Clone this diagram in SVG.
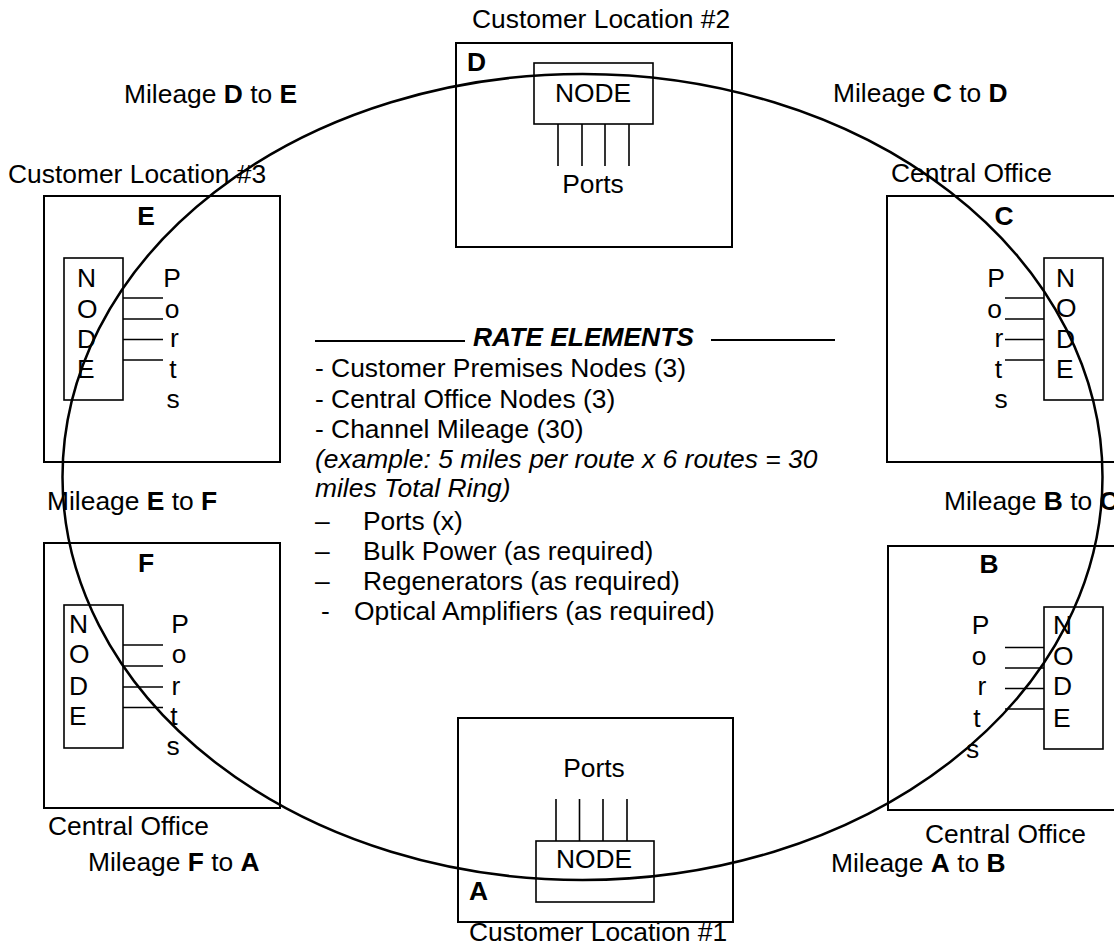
<svg xmlns="http://www.w3.org/2000/svg" width="1114" height="951" viewBox="0 0 1114 951">
<style>
text{font-family:"Liberation Sans",Arial,sans-serif;font-size:26.4px;fill:#000}
.b{font-weight:bold}
.bi{font-weight:bold;font-style:italic}
.i{font-style:italic}
.m{text-anchor:middle}
.box{fill:none;stroke:#000;stroke-width:2}
.inner{fill:none;stroke:#000;stroke-width:1.6}
.port{stroke:#000;stroke-width:1.6}
.ring{fill:none;stroke:#000;stroke-width:2.5}
.rule{stroke:#000;stroke-width:1.8}
</style>
<rect width="1114" height="951" fill="#fff"/>

<g id="node-D">
<text x="472" y="28">Customer Location #2</text>
<rect class="box" x="456" y="43" width="276" height="204"/>
<text class="b" x="467" y="71">D</text>
<rect class="inner" x="534" y="63" width="119" height="61"/>
<text class="m" x="593" y="102">NODE</text>
<line class="port" x1="558" y1="124" x2="558" y2="166"/>
<line class="port" x1="582" y1="124" x2="582" y2="166"/>
<line class="port" x1="605" y1="124" x2="605" y2="166"/>
<line class="port" x1="629" y1="124" x2="629" y2="166"/>
<text class="m" x="593" y="193">Ports</text>
</g>

<g id="node-E">
<text x="8" y="183">Customer Location #3</text>
<rect class="box" x="44" y="196" width="236" height="266"/>
<text class="b m" x="146" y="225">E</text>
<rect class="inner" x="64" y="258" width="59" height="142"/>
<text x="77" y="287">N</text>
<text x="77" y="318">O</text>
<text x="77" y="348">D</text>
<text x="77" y="378">E</text>
<line class="port" x1="123" y1="298" x2="163" y2="298"/>
<line class="port" x1="123" y1="319" x2="163" y2="319"/>
<line class="port" x1="123" y1="339.5" x2="163" y2="339.5"/>
<line class="port" x1="123" y1="360" x2="163" y2="360"/>
<text class="m" x="172" y="287">P</text>
<text class="m" x="172" y="318">o</text>
<text class="m" x="174.5" y="347">r</text>
<text class="m" x="173" y="378">t</text>
<text class="m" x="173" y="408">s</text>
</g>

<g id="node-C">
<text x="891" y="182">Central Office</text>
<rect class="box" x="887" y="196" width="240" height="266"/>
<text class="b m" x="1004" y="225">C</text>
<rect class="inner" x="1044" y="258" width="59" height="142"/>
<text x="1056" y="287">N</text>
<text x="1056" y="317">O</text>
<text x="1056" y="348">D</text>
<text x="1056" y="378">E</text>
<line class="port" x1="1005" y1="298" x2="1044" y2="298"/>
<line class="port" x1="1005" y1="319" x2="1044" y2="319"/>
<line class="port" x1="1005" y1="339.5" x2="1044" y2="339.5"/>
<line class="port" x1="1005" y1="360" x2="1044" y2="360"/>
<text class="m" x="996" y="287">P</text>
<text class="m" x="994.5" y="318">o</text>
<text class="m" x="999" y="347">r</text>
<text class="m" x="998.5" y="378">t</text>
<text class="m" x="1001" y="408">s</text>
</g>

<g id="node-F">
<rect class="box" x="44" y="543" width="236" height="265"/>
<text class="b m" x="146" y="572">F</text>
<rect class="inner" x="64" y="605" width="59" height="143"/>
<text x="69" y="633">N</text>
<text x="69" y="663">O</text>
<text x="69" y="695">D</text>
<text x="69" y="725">E</text>
<line class="port" x1="123" y1="645" x2="163" y2="645"/>
<line class="port" x1="123" y1="666" x2="163" y2="666"/>
<line class="port" x1="123" y1="687" x2="163" y2="687"/>
<line class="port" x1="123" y1="707.5" x2="163" y2="707.5"/>
<text class="m" x="180" y="633">P</text>
<text class="m" x="179" y="663">o</text>
<text class="m" x="176" y="695">r</text>
<text class="m" x="174" y="725">t</text>
<text class="m" x="173" y="755">s</text>
<text x="48" y="835">Central Office</text>
</g>

<g id="node-B">
<rect class="box" x="888" y="546" width="240" height="264"/>
<text class="b m" x="989" y="573">B</text>
<rect class="inner" x="1044" y="607" width="59" height="142"/>
<text x="1053" y="634">N</text>
<text x="1053" y="665">O</text>
<text x="1053" y="695">D</text>
<text x="1053" y="727">E</text>
<line class="port" x1="1005" y1="647.5" x2="1044" y2="647.5"/>
<line class="port" x1="1005" y1="668" x2="1044" y2="668"/>
<line class="port" x1="1005" y1="688.5" x2="1044" y2="688.5"/>
<line class="port" x1="1005" y1="709" x2="1044" y2="709"/>
<text class="m" x="980.5" y="634">P</text>
<text class="m" x="979" y="665">o</text>
<text class="m" x="982" y="695">r</text>
<text class="m" x="977" y="727">t</text>
<text class="m" x="972.5" y="758">s</text>
<text x="925" y="843">Central Office</text>
</g>

<g id="node-A">
<rect class="box" x="458" y="718" width="275" height="204"/>
<text class="m" x="594" y="777">Ports</text>
<line class="port" x1="556" y1="799" x2="556" y2="841"/>
<line class="port" x1="579.5" y1="799" x2="579.5" y2="841"/>
<line class="port" x1="603" y1="799" x2="603" y2="841"/>
<line class="port" x1="627" y1="799" x2="627" y2="841"/>
<rect class="inner" x="536" y="841" width="118" height="61"/>
<text class="m" x="594" y="868">NODE</text>
<text class="b" x="469" y="900">A</text>
<text x="469" y="941">Customer Location #1</text>
</g>

<g id="mileage-labels">
<text x="124" y="103">Mileage <tspan class="b">D</tspan> to <tspan class="b">E</tspan></text>
<text x="833" y="102">Mileage <tspan class="b">C</tspan> to <tspan class="b">D</tspan></text>
<text x="47" y="510">Mileage <tspan class="b">E</tspan> to <tspan class="b">F</tspan></text>
<text x="944" y="510">Mileage <tspan class="b">B</tspan> to <tspan class="b">C</tspan></text>
<text x="88" y="871">Mileage <tspan class="b">F</tspan> to <tspan class="b">A</tspan></text>
<text x="831" y="872">Mileage <tspan class="b">A</tspan> to <tspan class="b">B</tspan></text>
</g>

<g id="rate-elements">
<line class="rule" x1="315" y1="341" x2="465" y2="341"/>
<text class="bi" x="473" y="346">RATE ELEMENTS</text>
<line class="rule" x1="711" y1="340" x2="835" y2="340"/>
<text x="315" y="377">- Customer Premises Nodes (3)</text>
<text x="315" y="408">- Central Office Nodes (3)</text>
<text x="315" y="438">- Channel Mileage (30)</text>
<text class="i" x="315" y="468">(example: 5 miles per route x 6 routes = 30</text>
<text class="i" x="315" y="497">miles Total Ring)</text>
<text x="315" y="530">–</text>
<text x="363" y="530">Ports (x)</text>
<text x="315" y="560">–</text>
<text x="363" y="560">Bulk Power (as required)</text>
<text x="315" y="590">–</text>
<text x="363" y="590">Regenerators (as required)</text>
<text x="321" y="620">-</text>
<text x="354" y="620">Optical Amplifiers (as required)</text>
</g>

<g id="connectors">
<ellipse class="ring" cx="582.5" cy="477" rx="520" ry="403"/>
</g>
</svg>
